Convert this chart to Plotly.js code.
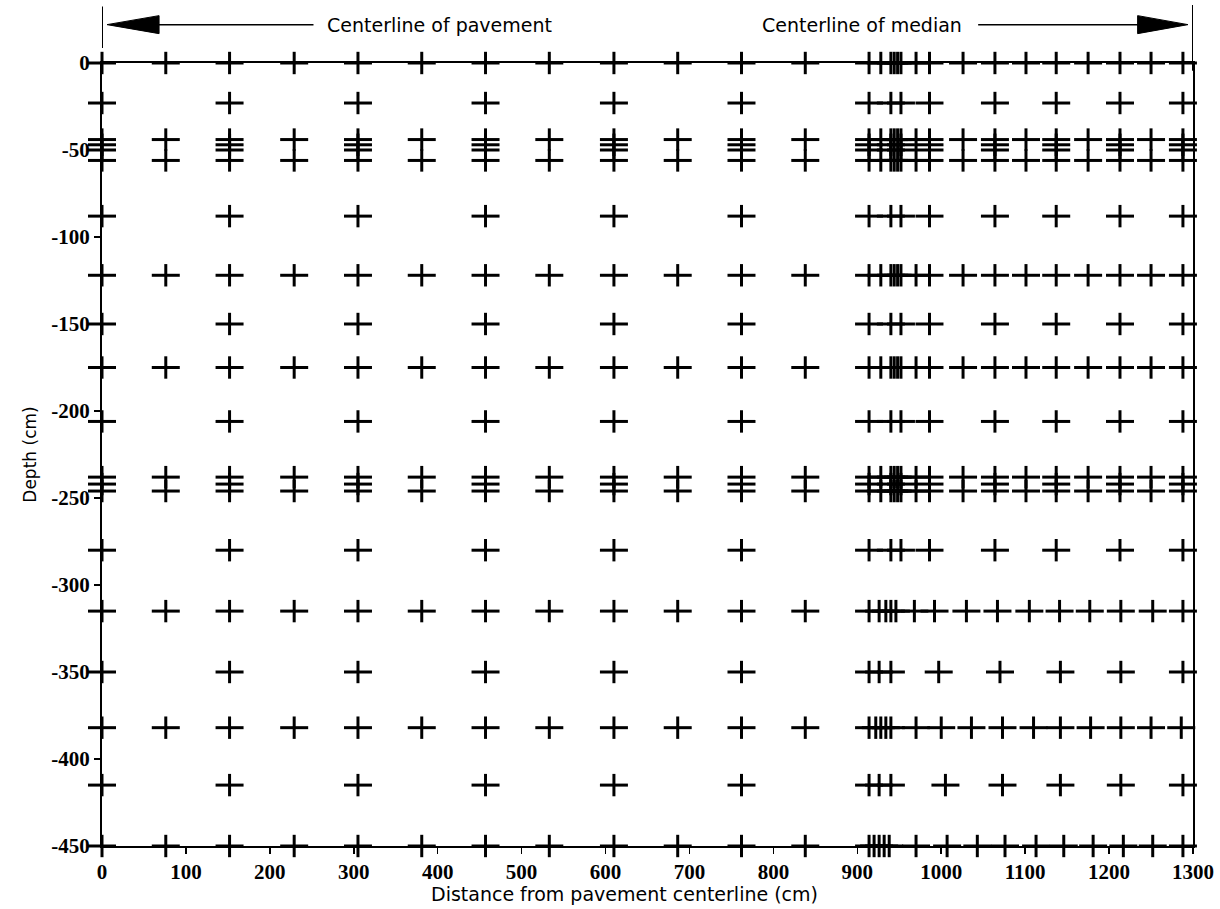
<!DOCTYPE html>
<html>
<head>
<meta charset="utf-8">
<script src="https://cdn.plot.ly/plotly-3.0.1.min.js"></script>
<style>html,body{margin:0;padding:0;background:#fff;}#chart{width:1220px;height:909px;}</style>
</head>
<body>
<div id="chart"></div>
<script>
// ---- Data (cm) ----
// Pavement columns
const pavFullX = [0, 152, 305, 457, 610, 762];
const pavHalfX = [76, 229, 381, 533, 686, 838];
const pavFullDepths = [0, -23, -44, -47, -50, -56, -88, -122, -150, -175, -206, -238, -242, -246, -280, -315, -350, -382, -415, -450];
const pavHalfDepths = [0, -44, -56, -122, -175, -238, -246, -315, -382, -450];

// Median, upper part (0 to -280 cm)
const medAllX = [914, 928, 940, 944, 948, 952, 970, 986, 1026, 1064, 1101, 1137, 1175, 1213, 1250, 1288];
const medAllDepths = [0, -122, -175];
const medFullX = [914, 940, 952, 986, 1064, 1137, 1213, 1288];
const medFullDepths = [-23, -44, -47, -50, -56, -88, -150, -206, -238, -242, -246, -280];
const medHalfX = [928, 944, 948, 970, 1026, 1101, 1175, 1250];
const medHalfDepths = [-44, -56, -238, -246];

// Median, lower rows
const row315X = [914, 926, 934, 940, 946, 968, 992, 1030, 1067, 1105, 1141, 1177, 1214, 1252, 1288];
const row350X = [914, 926, 940, 997, 1070, 1142, 1214, 1288];
const row382X = [914, 922, 928, 934, 940, 970, 1000, 1036, 1073, 1110, 1142, 1178, 1214, 1250, 1286];
const row415X = [914, 926, 940, 1005, 1073, 1142, 1214, 1288];
const row450X = [914, 920, 926, 932, 938, 970, 1007, 1043, 1076, 1113, 1146, 1181, 1217, 1252, 1288];

const xTicks = [0, 100, 200, 300, 400, 500, 600, 700, 800, 900, 1000, 1100, 1200, 1300];
const yTicks = [0, -50, -100, -150, -200, -250, -300, -350, -400, -450];

// ---- Build point lists ----
const X = [], Y = [];
function grid(xs, ds) { ds.forEach(d => xs.forEach(x => { X.push(x); Y.push(d); })); }
grid(pavFullX, pavFullDepths);
grid(pavHalfX, pavHalfDepths);
grid(medAllX, medAllDepths);
grid(medFullX, medFullDepths);
grid(medHalfX, medHalfDepths);
grid(row315X, [-315]);
grid(row350X, [-350]);
grid(row382X, [-382]);
grid(row415X, [-415]);
grid(row450X, [-450]);

// Crosses drawn as a horizontal bar + vertical bar (wider than tall, like the reference)
const horiz = {
  type: 'scatter', mode: 'markers', x: X, y: Y, cliponaxis: false,
  marker: { symbol: 'line-ew', size: 20, color: '#000', line: { width: 3, color: '#000' } },
  hoverinfo: 'x+y'
};
const vert = {
  type: 'scatter', mode: 'markers', x: X, y: Y, cliponaxis: false,
  marker: { symbol: 'line-ns', size: 16, color: '#000', line: { width: 3, color: '#000' } },
  hoverinfo: 'skip'
};

const tickFont = { family: 'Liberation Serif, Times New Roman, serif', size: 21, color: '#000', weight: 700 };
const textFont = { family: 'DejaVu Sans, sans-serif', size: 19, color: '#000' };

// Arrow geometry (paper y)
const yA = 1.049, hh = 0.0115;
const layout = {
  width: 1220, height: 909,
  margin: { l: 102, r: 27, t: 63, b: 63 },
  paper_bgcolor: '#fff', plot_bgcolor: '#fff',
  showlegend: false,
  xaxis: {
    range: [0, 1300], tickvals: xTicks, ticktext: xTicks.map(String),
    showgrid: false, zeroline: false, showline: true, linecolor: '#000', linewidth: 2, mirror: true,
    ticks: 'outside', ticklen: 6, tickwidth: 1.5, tickcolor: '#000', tickfont: tickFont,
    automargin: false
  },
  yaxis: {
    range: [-450, 0], tickvals: yTicks, ticktext: yTicks.map(String),
    showgrid: false, zeroline: false, showline: true, linecolor: '#000', linewidth: 2, mirror: true,
    ticks: 'outside', ticklen: 6, tickwidth: 1.5, tickcolor: '#000', tickfont: tickFont,
    automargin: false,
    title: { text: 'Depth (cm)', font: { family: 'DejaVu Sans, sans-serif', size: 17, color: '#000' }, standoff: 10 }
  },
  shapes: [
    { type: 'line', xref: 'x', yref: 'paper', x0: 0, x1: 0, y0: 1.019, y1: 1.072, line: { color: '#000', width: 2 } },
    { type: 'line', xref: 'x', yref: 'paper', x0: 1300, x1: 1300, y0: 0.99, y1: 1.074, line: { color: '#000', width: 2 } },
    { type: 'line', xref: 'x', yref: 'paper', x0: 60, x1: 252, y0: yA, y1: yA, line: { color: '#000', width: 1.5 } },
    { type: 'path', xref: 'x', yref: 'paper', path: `M 6 ${yA} L 68 ${yA + hh} L 68 ${yA - hh} Z`, fillcolor: '#000', line: { color: '#000', width: 1 } },
    { type: 'line', xref: 'x', yref: 'paper', x0: 1044, x1: 1240, y0: yA, y1: yA, line: { color: '#000', width: 1.5 } },
    { type: 'path', xref: 'x', yref: 'paper', path: `M 1294 ${yA} L 1234 ${yA + hh} L 1234 ${yA - hh} Z`, fillcolor: '#000', line: { color: '#000', width: 1 } }
  ],
  annotations: [
    { xref: 'x', yref: 'paper', x: 402, y: yA, text: 'Centerline of pavement', showarrow: false, font: textFont, xanchor: 'center', yanchor: 'middle' },
    { xref: 'x', yref: 'paper', x: 905, y: yA, text: 'Centerline of median', showarrow: false, font: textFont, xanchor: 'center', yanchor: 'middle' },
    { xref: 'x', yref: 'paper', x: 623, y: -0.061, text: 'Distance from pavement centerline (cm)', showarrow: false, font: textFont, xanchor: 'center', yanchor: 'middle' }
  ]
};

Plotly.newPlot('chart', [horiz, vert], layout, { displayModeBar: false, staticPlot: true });
</script>
</body>
</html>
